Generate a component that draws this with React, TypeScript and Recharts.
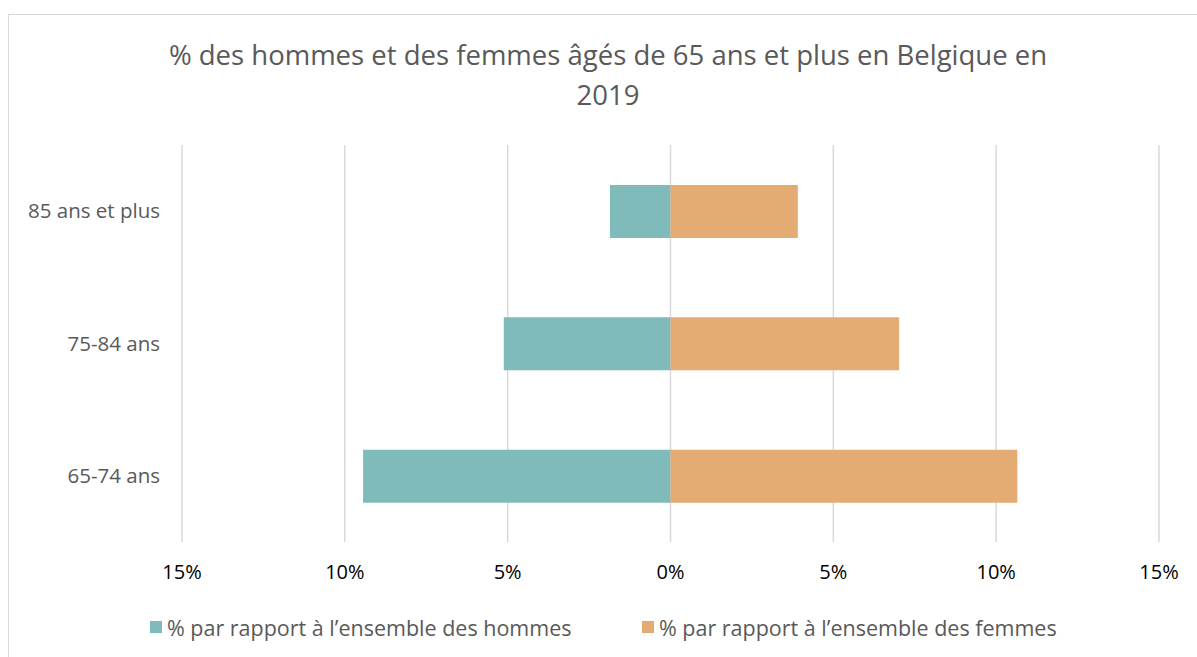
import { BarChart, Bar, XAxis, YAxis, CartesianGrid, Legend } from "recharts";

const categories = ["85 ans et plus", "75-84 ans", "65-74 ans"];
const hommes = [1.86, 5.12, 9.44];
const femmes = [3.91, 7.02, 10.65];
const xTicks = [-15, -10, -5, 0, 5, 10, 15];

const seriesNames = {
  hommes: "% par rapport à l’ensemble des hommes",
  femmes: "% par rapport à l’ensemble des femmes",
};

const COLORS = { hommes: "#7FBBBB", femmes: "#E4AC72" };
const FONT = "'Open Sans', 'Liberation Sans', sans-serif";

// hommes à gauche (valeurs négatives), femmes à droite
const data = categories.map((label, i) => ({
  label,
  hommes: -hommes[i],
  femmes: femmes[i],
}));

const renderLegend = () => (
  <div style={{ position: "relative", height: 30, fontFamily: FONT, fontSize: 21.5, color: "#595959" }}>
    <div style={{ position: "absolute", left: 150, top: 0, height: 30, display: "flex", alignItems: "center" }}>
      <span style={{ width: 12, height: 12, background: COLORS.hommes, marginRight: 5 }} />
      {seriesNames.hommes}
    </div>
    <div style={{ position: "absolute", left: 642, top: 0, height: 30, display: "flex", alignItems: "center" }}>
      <span style={{ width: 12, height: 12, background: COLORS.femmes, marginRight: 5 }} />
      {seriesNames.femmes}
    </div>
  </div>
);

export default function App() {
  return (
    <div
      style={{
        position: "absolute",
        left: 0,
        top: 0,
        width: 1197,
        height: 657,
        overflow: "hidden",
        background: "#fff",
      }}
    >
      {/* cadre du graphique */}
      <div
        style={{
          position: "absolute",
          left: 8,
          top: 14,
          width: 1300,
          height: 800,
          border: "1px solid #d9d9d9",
        }}
      />
      <div
        style={{
          position: "absolute",
          left: 0,
          top: 35,
          width: 1216,
          textAlign: "center",
          fontFamily: FONT,
          fontSize: 27.5,
          lineHeight: "40px",
          color: "#595959",
        }}
      >
        % des hommes et des femmes âgés de 65 ans et plus en Belgique en
        <br />
        2019
      </div>
      <BarChart
        width={1197}
        height={657}
        data={data}
        layout="vertical"
        stackOffset="sign"
        margin={{ top: 145, right: 38, bottom: 55, left: 0 }}
        style={{ position: "absolute", left: 0, top: 0 }}
      >
        <CartesianGrid horizontal={false} stroke="#d9d9d9" strokeWidth={1.5} />
        <XAxis
          type="number"
          domain={[-15, 15]}
          ticks={xTicks}
          tickFormatter={(v: number) => `${Math.abs(v)}%`}
          axisLine={false}
          tickLine={false}
          tickMargin={17}
          height={30}
          tick={{ fill: "#000", fontSize: 20, fontFamily: FONT }}
          interval={0}
        />
        <YAxis
          type="category"
          dataKey="label"
          width={182}
          axisLine={false}
          tickLine={false}
          tickMargin={16}
          tick={{ fill: "#595959", fontSize: 20.5, fontFamily: FONT }}
        />
        <Legend
          content={renderLegend}
          verticalAlign="bottom"
          wrapperStyle={{ position: "absolute", left: 0, top: 612, width: 1197 }}
        />
        <Bar
          dataKey="hommes"
          name={seriesNames.hommes}
          stackId="a"
          fill={COLORS.hommes}
          barSize={53}
          isAnimationActive={false}
        />
        <Bar
          dataKey="femmes"
          name={seriesNames.femmes}
          stackId="a"
          fill={COLORS.femmes}
          barSize={53}
          isAnimationActive={false}
        />
      </BarChart>
    </div>
  );
}
